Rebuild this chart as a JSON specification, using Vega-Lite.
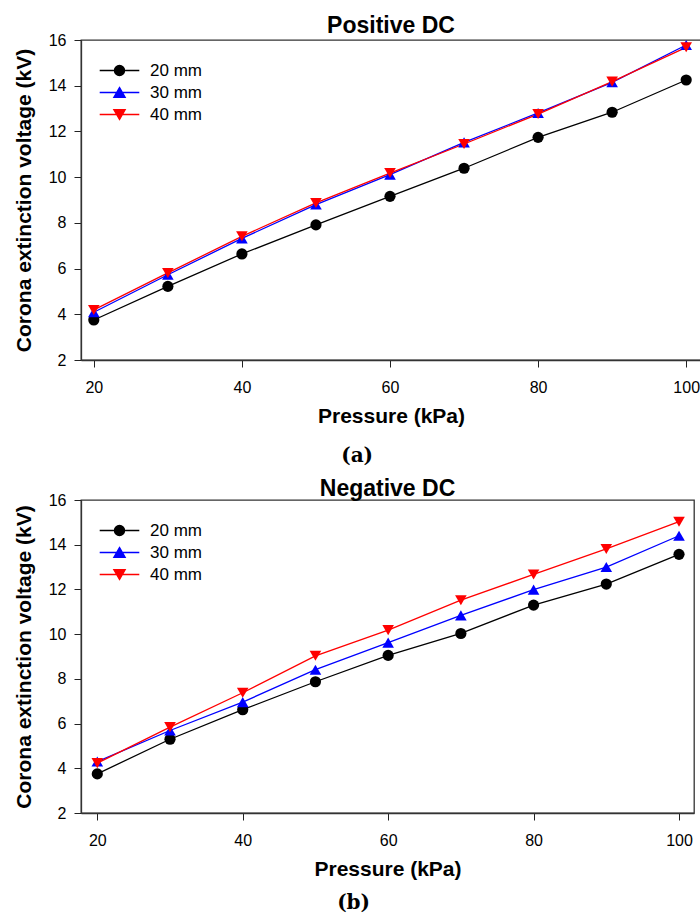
{
  "$schema": "https://vega.github.io/schema/vega-lite/v6.json",
  "background": "white",
  "padding": {"left": 12, "top": 14, "right": 0, "bottom": 0},
  "spacing": 11,
  "datasets": {
    "pos": [
      {"p": 20, "g": "20 mm", "v": 3.75}, {"p": 30, "g": "20 mm", "v": 5.22}, {"p": 40, "g": "20 mm", "v": 6.64},
      {"p": 50, "g": "20 mm", "v": 7.91}, {"p": 60, "g": "20 mm", "v": 9.16}, {"p": 70, "g": "20 mm", "v": 10.39},
      {"p": 80, "g": "20 mm", "v": 11.74}, {"p": 90, "g": "20 mm", "v": 12.84}, {"p": 100, "g": "20 mm", "v": 14.25},
      {"p": 20, "g": "30 mm", "v": 4.09}, {"p": 30, "g": "30 mm", "v": 5.73}, {"p": 40, "g": "30 mm", "v": 7.32},
      {"p": 50, "g": "30 mm", "v": 8.8}, {"p": 60, "g": "30 mm", "v": 10.11}, {"p": 70, "g": "30 mm", "v": 11.52},
      {"p": 80, "g": "30 mm", "v": 12.81}, {"p": 90, "g": "30 mm", "v": 14.15}, {"p": 100, "g": "30 mm", "v": 15.78},
      {"p": 20, "g": "40 mm", "v": 4.19}, {"p": 30, "g": "40 mm", "v": 5.81}, {"p": 40, "g": "40 mm", "v": 7.41},
      {"p": 50, "g": "40 mm", "v": 8.87}, {"p": 60, "g": "40 mm", "v": 10.18}, {"p": 70, "g": "40 mm", "v": 11.45},
      {"p": 80, "g": "40 mm", "v": 12.76}, {"p": 90, "g": "40 mm", "v": 14.18}, {"p": 100, "g": "40 mm", "v": 15.68}
    ],
    "neg": [
      {"p": 20, "g": "20 mm", "v": 3.75}, {"p": 30, "g": "20 mm", "v": 5.3}, {"p": 40, "g": "20 mm", "v": 6.62},
      {"p": 50, "g": "20 mm", "v": 7.87}, {"p": 60, "g": "20 mm", "v": 9.05}, {"p": 70, "g": "20 mm", "v": 10.03},
      {"p": 80, "g": "20 mm", "v": 11.3}, {"p": 90, "g": "20 mm", "v": 12.24}, {"p": 100, "g": "20 mm", "v": 13.57},
      {"p": 20, "g": "30 mm", "v": 4.3}, {"p": 30, "g": "30 mm", "v": 5.69}, {"p": 40, "g": "30 mm", "v": 6.96},
      {"p": 50, "g": "30 mm", "v": 8.41}, {"p": 60, "g": "30 mm", "v": 9.62}, {"p": 70, "g": "30 mm", "v": 10.84},
      {"p": 80, "g": "30 mm", "v": 11.99}, {"p": 90, "g": "30 mm", "v": 13.0}, {"p": 100, "g": "30 mm", "v": 14.4},
      {"p": 20, "g": "40 mm", "v": 4.23}, {"p": 30, "g": "40 mm", "v": 5.84}, {"p": 40, "g": "40 mm", "v": 7.38},
      {"p": 50, "g": "40 mm", "v": 9.03}, {"p": 60, "g": "40 mm", "v": 10.18}, {"p": 70, "g": "40 mm", "v": 11.52},
      {"p": 80, "g": "40 mm", "v": 12.67}, {"p": 90, "g": "40 mm", "v": 13.81}, {"p": 100, "g": "40 mm", "v": 15.03}
    ]
  },
  "resolve": {
    "scale": {"x": "independent", "y": "independent", "color": "independent"},
    "legend": {"color": "independent"}
  },
  "vconcat": [
    {
      "title": {"text": "(a)", "orient": "bottom", "anchor": "middle", "font": "DejaVu Serif", "fontSize": 20, "fontWeight": "bold", "color": "black", "offset": 19},
      "resolve": {
        "scale": {"x": "independent", "y": "independent", "color": "independent"},
        "legend": {"color": "independent"}
      },
      "vconcat": [
        {
          "width": 620,
          "height": 320,
          "title": {"text": "Positive DC", "font": "Liberation Sans", "fontSize": 23, "fontWeight": "bold", "color": "black", "offset": -6},
          "data": {"name": "pos"},
          "encoding": {
            "x": {"field": "p", "type": "quantitative", "scale": {"domain": [18.27, 102], "nice": false, "zero": false},
                  "axis": {"values": [20, 40, 60, 80, 100], "title": "Pressure (kPa)"}},
            "y": {"field": "v", "type": "quantitative", "scale": {"domain": [2, 16], "nice": false, "zero": false},
                  "axis": {"values": [2, 4, 6, 8, 10, 12, 14, 16], "title": "Corona extinction voltage (kV)"}},
            "color": {"field": "g", "type": "nominal",
                      "scale": {"domain": ["20 mm", "30 mm", "40 mm"], "range": ["#000000", "#0000ff", "#ff0000"]},
                      "legend": {
                        "title": null, "orient": "none", "legendX": 30, "legendY": 22, "padding": 0,
                        "labelFont": "Liberation Sans", "labelFontSize": 17, "labelColor": "black",
                        "symbolSize": 121, "labelOffset": 22, "rowPadding": 4,
                        "encode": {"symbols": {"update": {
                          "shape": {"signal": "datum.value === '20 mm' ? 'M-3.6,0H3.6M0.9,0A0.9,0.9,0,1,1,-0.9,0A0.9,0.9,0,1,1,0.9,0Z' : datum.value === '30 mm' ? 'M-3.6,0H3.6M0,-0.87L1,0.87L-1,0.87Z' : 'M-3.6,0H3.6M0,0.87L1,-0.87L-1,-0.87Z'"},
                          "fill": {"signal": "datum.value === '20 mm' ? '#000000' : datum.value === '30 mm' ? '#0000ff' : '#ff0000'"},
                          "stroke": {"signal": "datum.value === '20 mm' ? '#000000' : datum.value === '30 mm' ? '#0000ff' : '#ff0000'"},
                          "strokeWidth": {"value": 1.5},
                          "opacity": {"value": 1},
                          "fillOpacity": {"value": 1},
                          "strokeOpacity": {"value": 1}
                        }}}
                      }}
          },
          "layer": [
            {"mark": {"type": "line", "strokeWidth": 1.3}},
            {"transform": [{"filter": "datum.g === '20 mm'"}],
             "mark": {"type": "point", "shape": "circle", "filled": true, "opacity": 1, "size": 125}},
            {"transform": [{"filter": "datum.g === '30 mm'"}],
             "mark": {"type": "point", "shape": "triangle-up", "filled": true, "opacity": 1, "size": 135}},
            {"transform": [{"filter": "datum.g === '40 mm'"}],
             "mark": {"type": "point", "shape": "triangle-down", "filled": true, "opacity": 1, "size": 135}}
          ]
        }
      ]
    },
    {
      "title": {"text": "(b)", "orient": "bottom", "anchor": "middle", "font": "DejaVu Serif", "fontSize": 20, "fontWeight": "bold", "color": "black", "offset": 13},
      "resolve": {
        "scale": {"x": "independent", "y": "independent", "color": "independent"},
        "legend": {"color": "independent"}
      },
      "vconcat": [
        {
          "width": 613,
          "height": 313,
          "title": {"text": "Negative DC", "font": "Liberation Sans", "fontSize": 23, "fontWeight": "bold", "color": "black", "offset": -9},
          "data": {"name": "neg"},
          "encoding": {
            "x": {"field": "p", "type": "quantitative", "scale": {"domain": [17.76, 102.06], "nice": false, "zero": false},
                  "axis": {"values": [20, 40, 60, 80, 100], "title": "Pressure (kPa)"}},
            "y": {"field": "v", "type": "quantitative", "scale": {"domain": [2, 16], "nice": false, "zero": false},
                  "axis": {"values": [2, 4, 6, 8, 10, 12, 14, 16], "title": "Corona extinction voltage (kV)"}},
            "color": {"field": "g", "type": "nominal",
                      "scale": {"domain": ["20 mm", "30 mm", "40 mm"], "range": ["#000000", "#0000ff", "#ff0000"]},
                      "legend": {
                        "title": null, "orient": "none", "legendX": 30, "legendY": 22, "padding": 0,
                        "labelFont": "Liberation Sans", "labelFontSize": 17, "labelColor": "black",
                        "symbolSize": 121, "labelOffset": 22, "rowPadding": 4,
                        "encode": {"symbols": {"update": {
                          "shape": {"signal": "datum.value === '20 mm' ? 'M-3.6,0H3.6M0.9,0A0.9,0.9,0,1,1,-0.9,0A0.9,0.9,0,1,1,0.9,0Z' : datum.value === '30 mm' ? 'M-3.6,0H3.6M0,-0.87L1,0.87L-1,0.87Z' : 'M-3.6,0H3.6M0,0.87L1,-0.87L-1,-0.87Z'"},
                          "fill": {"signal": "datum.value === '20 mm' ? '#000000' : datum.value === '30 mm' ? '#0000ff' : '#ff0000'"},
                          "stroke": {"signal": "datum.value === '20 mm' ? '#000000' : datum.value === '30 mm' ? '#0000ff' : '#ff0000'"},
                          "strokeWidth": {"value": 1.5},
                          "opacity": {"value": 1},
                          "fillOpacity": {"value": 1},
                          "strokeOpacity": {"value": 1}
                        }}}
                      }}
          },
          "layer": [
            {"mark": {"type": "line", "strokeWidth": 1.3}},
            {"transform": [{"filter": "datum.g === '20 mm'"}],
             "mark": {"type": "point", "shape": "circle", "filled": true, "opacity": 1, "size": 125}},
            {"transform": [{"filter": "datum.g === '30 mm'"}],
             "mark": {"type": "point", "shape": "triangle-up", "filled": true, "opacity": 1, "size": 135}},
            {"transform": [{"filter": "datum.g === '40 mm'"}],
             "mark": {"type": "point", "shape": "triangle-down", "filled": true, "opacity": 1, "size": 135}}
          ]
        }
      ]
    }
  ],
  "config": {
    "view": {"stroke": "#333333", "strokeWidth": 1.3},
    "axis": {
      "grid": false,
      "domainColor": "#333333", "domainWidth": 1.3,
      "tickColor": "#222222", "tickSize": 7, "tickWidth": 1,
      "labelFont": "Liberation Sans", "labelFontSize": 16, "labelColor": "black",
      "titleFont": "Liberation Sans", "titleFontSize": 21, "titleFontWeight": "bold", "titleColor": "black"
    },
    "axisX": {"labelPadding": 12, "titlePadding": 10},
    "axisY": {"labelPadding": 8, "titlePadding": 14}
  }
}
